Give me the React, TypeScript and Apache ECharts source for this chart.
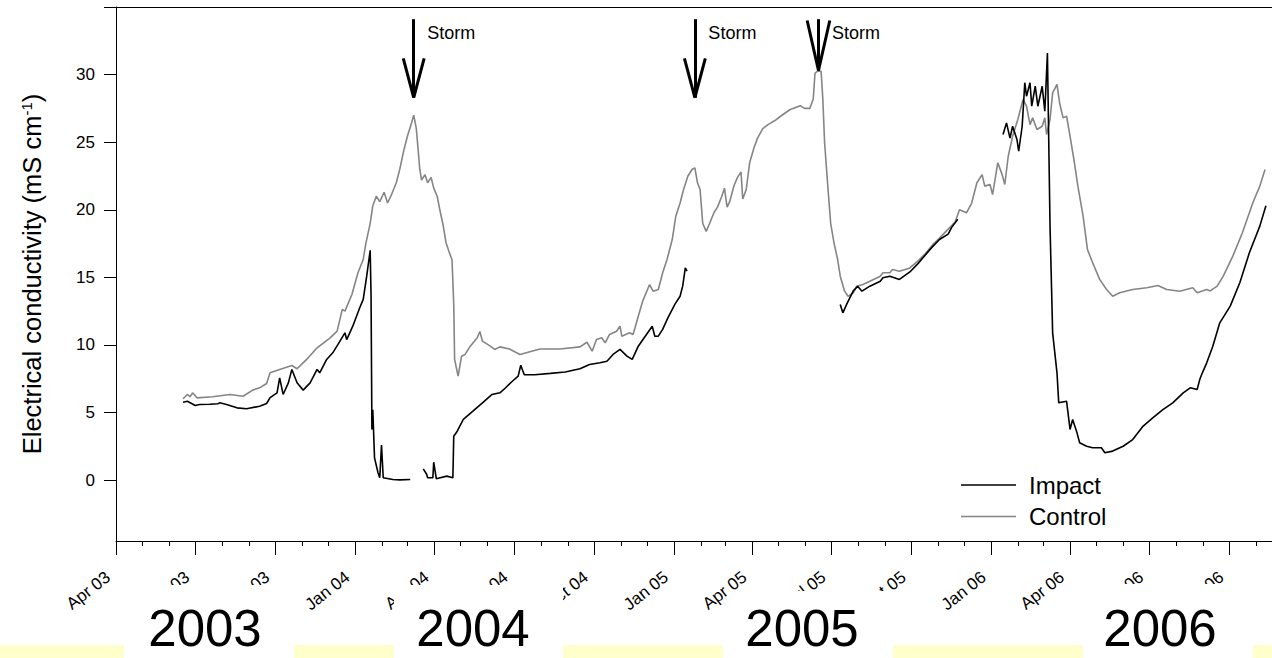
import React, { useEffect, useRef } from 'react';
import * as echarts from 'echarts';

// ---- axis ticks / labels ----
const QUARTER_TICKS = ['2003-04-01','2003-07-01','2003-10-01','2004-01-01','2004-04-01','2004-07-01','2004-10-01','2005-01-01','2005-04-01','2005-07-01','2005-10-01','2006-01-01','2006-04-01','2006-07-01','2006-10-01'];
const QUARTER_LABELS = ['Apr 03','Jul 03','Oct 03','Jan 04','Apr 04','Jul 04','Oct 04','Jan 05','Apr 05','Jul 05','Oct 05','Jan 06','Apr 06','Jul 06','Oct 06'];
const Y_TICKS = [0, 5, 10, 15, 20, 25, 30];
const X_MIN = '2003-04-01';
const X_MAX = '2006-11-19';
const Y_MIN = -4.5;
const Y_MAX = 35;
const YEAR_LABELS = ['2003', '2004', '2005', '2006'];
const SERIES_NAMES = ['Impact', 'Control'];

// ---- storm annotations ----
const STORM_DATES = ['2004-03-08', '2005-01-25', '2005-06-16'];
const STORM_TIPS = [28.3, 28.3, 30.3];

// ---- Impact (black) ----
const IMPACT: [string, number | null][] = [
  ['2003-06-17',5.77],['2003-06-22',5.84],['2003-07-01',5.52],['2003-07-06',5.6],['2003-07-18',5.62],['2003-07-27',5.65],['2003-07-29',5.72],['2003-08-06',5.6],['2003-08-18',5.35],['2003-08-29',5.28],['2003-09-13',5.47],['2003-09-21',5.67],['2003-09-25',6.1],['2003-10-03',6.46],['2003-10-06',7.57],['2003-10-10',6.34],['2003-10-16',7.2],['2003-10-20',8.19],['2003-10-26',7.2],['2003-11-02',6.66],['2003-11-10',7.2],['2003-11-18',8.19],['2003-11-21',7.94],['2003-11-29',8.93],['2003-12-06',9.42],['2003-12-12',10.04],['2003-12-20',10.9],['2003-12-22',10.4],['2003-12-29',11.39],['2004-01-06',12.75],['2004-01-10',13.37],['2004-01-14',15.09],['2004-01-18',17.0],['2004-01-19',13.7],['2004-01-20',3.75],['2004-01-21',5.2],['2004-01-23',1.65],['2004-01-27',0.55],['2004-01-29',0.18],['2004-01-31',2.6],['2004-02-02',0.18],['2004-02-13',0.05],['2004-02-21',0.02],['2004-03-04',0.05],
  ['2004-03-10',null],
  ['2004-03-19',0.84],['2004-03-23',0.42],['2004-03-24',0.18],['2004-03-30',0.18],['2004-03-31',1.33],['2004-04-03',0.1],['2004-04-15',0.3],['2004-04-22',0.18],['2004-04-23',3.25],['2004-04-27',3.62],['2004-05-04',4.49],['2004-05-15',5.1],['2004-05-26',5.72],['2004-06-06',6.34],['2004-06-15',6.46],['2004-06-21',6.8],['2004-06-29',7.3],['2004-07-06',7.7],['2004-07-09',8.5],['2004-07-13',7.8],['2004-07-25',7.8],['2004-08-12',7.9],['2004-08-29',8.0],['2004-09-15',8.24],['2004-09-26',8.56],['2004-10-08',8.68],['2004-10-16',8.8],['2004-10-23',9.3],['2004-10-31',9.67],['2004-11-08',9.17],['2004-11-14',8.93],['2004-11-21',9.91],['2004-11-29',10.65],['2004-12-07',11.39],['2004-12-10',10.65],['2004-12-14',10.65],['2004-12-19',11.15],['2004-12-25',12.01],['2005-01-02',13.0],['2005-01-08',13.6],['2005-01-11',14.35],['2005-01-14',15.71],['2005-01-16',15.46],
  ['2005-04-01',null],
  ['2005-07-11',13.0],['2005-07-14',12.38],['2005-07-19',13.1],['2005-07-26',14.0],['2005-07-31',14.35],['2005-08-05',13.98],['2005-08-14',14.35],['2005-08-26',14.72],['2005-08-29',14.97],['2005-09-06',15.09],['2005-09-17',14.85],['2005-09-29',15.4],['2005-10-08',16.0],['2005-10-16',16.6],['2005-10-24',17.2],['2005-11-02',17.8],['2005-11-12',18.2],['2005-11-16',18.7],['2005-11-23',19.3],
  ['2005-12-20',null],
  ['2006-01-14',25.57],['2006-01-18',26.43],['2006-01-22',25.3],['2006-01-25',26.18],['2006-01-30',25.2],['2006-02-01',24.33],['2006-02-05',26.18],['2006-02-08',29.4],['2006-02-10',28.4],['2006-02-14',29.4],['2006-02-16',27.66],['2006-02-20',29.14],['2006-02-23',27.66],['2006-02-28',29.14],['2006-03-03',27.3],['2006-03-04',28.65],['2006-03-06',31.6],['2006-03-09',18.8],['2006-03-12',10.9],['2006-03-17',7.94],['2006-03-19',5.72],['2006-03-28',5.84],['2006-04-01',3.75],['2006-04-04',4.49],['2006-04-09',3.5],['2006-04-12',2.77],['2006-04-20',2.51],['2006-04-27',2.4],['2006-05-07',2.4],['2006-05-11',2.03],['2006-05-20',2.15],['2006-06-01',2.51],['2006-06-12',3.0],['2006-06-24',4.0],['2006-07-05',4.6],['2006-07-17',5.23],['2006-07-28',5.72],['2006-08-09',6.46],['2006-08-17',6.83],['2006-08-25',6.7],['2006-08-28',7.45],['2006-08-31',7.94],['2006-09-05',8.68],['2006-09-12',9.91],['2006-09-20',11.64],['2006-10-02',12.87],['2006-10-13',14.6],['2006-10-24',16.82],['2006-11-05',18.79],['2006-11-12',20.3]
];

// ---- Control (grey) ----
const CONTROL: [string, number | null][] = [
  ['2003-06-17',6.02],['2003-06-22',6.34],['2003-06-25',6.17],['2003-06-28',6.46],['2003-07-03',6.09],['2003-07-21',6.17],['2003-08-10',6.34],['2003-08-25',6.21],['2003-09-05',6.66],['2003-09-13',6.83],['2003-09-21',7.15],['2003-09-25',7.94],['2003-10-06',8.19],['2003-10-20',8.48],['2003-10-26',8.24],['2003-11-06',8.93],['2003-11-18',9.79],['2003-12-03',10.53],['2003-12-11',11.02],['2003-12-17',12.63],['2003-12-20',12.5],['2003-12-28',13.73],['2004-01-04',15.34],['2004-01-10',16.32],['2004-01-13',17.5],['2004-01-18',19.0],['2004-01-21',20.3],['2004-01-25',21.0],['2004-01-29',20.6],['2004-02-03',21.3],['2004-02-07',20.5],['2004-02-12',21.2],['2004-02-17',22.0],['2004-02-21',23.0],['2004-02-26',24.5],['2004-03-01',25.5],['2004-03-05',26.3],['2004-03-08',27.0],['2004-03-11',26.0],['2004-03-13',24.5],['2004-03-15',23.0],['2004-03-17',22.2],['2004-03-21',22.6],['2004-03-24',22.0],['2004-03-28',22.4],['2004-03-31',21.6],['2004-04-04',21.0],['2004-04-07',20.0],['2004-04-11',18.8],['2004-04-14',17.6],['2004-04-17',17.0],['2004-04-21',16.3],['2004-04-23',13.0],['2004-04-24',8.93],['2004-04-28',7.7],['2004-05-02',9.17],['2004-05-06',9.3],['2004-05-12',9.91],['2004-05-20',10.53],['2004-05-23',11.0],['2004-05-26',10.28],['2004-06-04',9.91],['2004-06-09',9.67],['2004-06-15',9.86],['2004-06-26',9.7],['2004-07-08',9.3],['2004-07-31',9.7],['2004-08-23',9.7],['2004-09-15',9.86],['2004-09-23',10.2],['2004-09-29',9.54],['2004-10-04',10.4],['2004-10-10',10.53],['2004-10-14',10.16],['2004-10-19',10.78],['2004-10-27',11.02],['2004-10-31',11.39],['2004-11-02',10.65],['2004-11-11',10.9],['2004-11-15',10.78],['2004-11-21',12.13],['2004-11-26',13.24],['2004-12-04',14.47],['2004-12-08',13.98],['2004-12-14',14.1],['2004-12-19',15.34],['2004-12-24',16.32],['2004-12-30',17.8],['2005-01-03',19.5],['2005-01-08',20.5],['2005-01-12',21.5],['2005-01-17',22.5],['2005-01-22',23.0],['2005-01-25',23.1],['2005-01-28',22.0],['2005-01-31',21.5],['2005-02-03',19.0],['2005-02-07',18.4],['2005-02-11',19.0],['2005-02-16',19.8],['2005-02-20',20.2],['2005-02-25',21.0],['2005-02-28',21.6],['2005-03-03',20.2],['2005-03-06',20.6],['2005-03-11',21.8],['2005-03-15',22.4],['2005-03-19',22.8],['2005-03-21',20.8],['2005-03-25',21.5],['2005-03-29',23.5],['2005-04-03',24.6],['2005-04-07',25.3],['2005-04-13',26.0],['2005-04-19',26.3],['2005-04-27',26.6],['2005-05-03',26.9],['2005-05-14',27.4],['2005-05-26',27.7],['2005-05-31',27.5],['2005-06-06',27.5],['2005-06-10',28.2],['2005-06-12',30.1],['2005-06-15',30.25],['2005-06-19',30.25],['2005-06-21',28.2],['2005-06-23',25.0],['2005-06-27',21.5],['2005-06-30',19.0],['2005-07-04',17.5],['2005-07-08',16.32],['2005-07-11',15.09],['2005-07-16',13.98],['2005-07-20',13.6],['2005-07-26',13.86],['2005-07-30',14.35],['2005-08-06',14.47],['2005-08-14',14.72],['2005-08-26',15.09],['2005-08-29',15.34],['2005-09-06',15.34],['2005-09-09',15.58],['2005-09-17',15.46],['2005-09-29',15.7],['2005-10-08',16.2],['2005-10-16',16.7],['2005-10-25',17.4],['2005-11-02',17.9],['2005-11-14',18.7],['2005-11-20',19.1],['2005-11-25',20.0],['2005-12-03',19.78],['2005-12-09',20.5],['2005-12-15',22.0],['2005-12-21',22.6],['2005-12-24',21.75],['2005-12-30',21.87],['2006-01-02',21.13],['2006-01-08',23.48],['2006-01-13',22.6],['2006-01-16',21.87],['2006-01-20',23.96],['2006-01-25',25.44],['2006-01-31',26.68],['2006-02-06',28.16],['2006-02-10',27.66],['2006-02-14',26.3],['2006-02-17',26.8],['2006-02-22',25.94],['2006-02-28',26.18],['2006-03-03',26.8],['2006-03-05',25.57],['2006-03-09',26.68],['2006-03-12',28.65],['2006-03-17',29.27],['2006-03-20',27.9],['2006-03-24',26.8],['2006-03-28',26.92],['2006-04-01',25.44],['2006-04-06',23.48],['2006-04-10',21.75],['2006-04-16',19.53],['2006-04-21',17.06],['2006-04-27',16.08],['2006-05-05',14.85],['2006-05-13',14.1],['2006-05-20',13.6],['2006-05-28',13.86],['2006-06-12',14.1],['2006-06-28',14.23],['2006-07-11',14.4],['2006-07-21',14.1],['2006-08-05',13.98],['2006-08-20',14.23],['2006-08-25',13.86],['2006-09-05',14.1],['2006-09-09',14.0],['2006-09-17',14.35],['2006-09-24',15.09],['2006-10-05',16.57],['2006-10-16',18.3],['2006-10-28',20.52],['2006-11-05',21.75],['2006-11-11',22.98]
];

const FONT = '"Liberation Sans", Arial, Helvetica, sans-serif';
const DAY = 86400000;
const ts = (s: string) => Date.UTC(+s.slice(0, 4), +s.slice(5, 7) - 1, +s.slice(8, 10));
const toData = (arr: [string, number | null][]) => arr.map(([d, v]) => [ts(d), v === null ? '-' : v]);

function monthTicks(): number[] {
  const out: number[] = [];
  let y = 2003, m = 3;
  const end = ts(X_MAX);
  while (true) {
    const t = Date.UTC(y, m, 1);
    if (t > end) break;
    out.push(t);
    m++;
    if (m > 11) { m = 0; y++; }
  }
  return out;
}

export default function App() {
  const ref = useRef<HTMLDivElement>(null);
  useEffect(() => {
    if (!ref.current) return;
    const chart = echarts.init(ref.current, null, { renderer: 'svg' });
    const quarterTs = QUARTER_TICKS.map(ts);

    const arrowLines: any[] = [];
    STORM_DATES.forEach((d, i) => {
      const t = ts(d);
      const tip = STORM_TIPS[i];
      const top = 34.1;
      const armStart = i === 2 ? 34.0 : 31.2;
      const armDays = i === 2 ? 13 : 12;
      arrowLines.push([{ coord: [t, top] }, { coord: [t, tip] }]);
      arrowLines.push([{ coord: [t - armDays * DAY, armStart] }, { coord: [t, tip] }]);
      arrowLines.push([{ coord: [t + armDays * DAY, armStart] }, { coord: [t, tip] }]);
    });

    // pale yellow strips between the year boxes
    const yellow = [[0, 124], [294, 394], [563, 723], [893, 1083], [1253, 1272]];
    const yearBoxes = [
      { x0: 124, x1: 294, top: 585, cx: 205, cy: 628 },
      { x0: 394, x1: 563, top: 585, cx: 473, cy: 628 },
      { x0: 733, x1: 893, top: 591, cx: 802, cy: 628 },
      { x0: 1083, x1: 1253, top: 584, cx: 1160, cy: 628 },
    ];
    const graphics: any[] = [];
    yellow.forEach(([a, b]) => {
      graphics.push({ type: 'rect', z: 100, shape: { x: a, y: 645, width: b - a, height: 13 }, style: { fill: '#FFFFCC' } });
    });
    yearBoxes.forEach((b, i) => {
      graphics.push({ type: 'rect', z: 101, shape: { x: b.x0, y: b.top, width: b.x1 - b.x0, height: 658 - b.top }, style: { fill: '#ffffff' } });
      graphics.push({ type: 'text', z: 102, x: b.cx, y: b.cy, style: { text: YEAR_LABELS[i], fontSize: 51, lineHeight: 40, fontFamily: FONT, fill: '#000', textAlign: 'center', textVerticalAlign: 'middle' } });
    });

    const baseX = { type: 'value', min: ts(X_MIN), max: ts(X_MAX), scale: true, splitLine: { show: false } };

    chart.setOption({
      animation: false,
      textStyle: { fontFamily: FONT },
      grid: { left: 116, right: 0, top: 7, bottom: 117, containLabel: false },
      legend: {
        data: SERIES_NAMES,
        orient: 'vertical',
        left: 961,
        top: 473,
        padding: 0,
        icon: 'rect',
        itemWidth: 55,
        itemHeight: 1.6,
        itemGap: 7.5,
        textStyle: { fontSize: 24, color: '#000', fontFamily: FONT, padding: [0, 0, 0, 8] },
      },
      xAxis: [
        {
          ...baseX,
          position: 'bottom',
          axisLine: { show: true, onZero: false, lineStyle: { color: '#000', width: 1 } },
          axisTick: { show: true, customValues: quarterTs, length: 14, lineStyle: { color: '#000', width: 1 } },
          axisLabel: {
            show: true,
            customValues: quarterTs,
            rotate: 38,
            margin: 28,
            fontSize: 17,
            color: '#000',
            padding: [0, 10, 0, 0],
            formatter: (v: number) => {
              const i = quarterTs.indexOf(v);
              return i >= 0 ? QUARTER_LABELS[i] : '';
            },
          },
        },
        {
          ...baseX,
          position: 'bottom',
          axisLine: { show: false, onZero: false },
          axisTick: { show: true, customValues: monthTicks(), length: 5, lineStyle: { color: '#000', width: 1 } },
          axisLabel: { show: false },
        },
        {
          ...baseX,
          position: 'top',
          axisLine: { show: true, onZero: false, lineStyle: { color: '#000', width: 1 } },
          axisTick: { show: false },
          axisLabel: { show: false },
        },
      ],
      yAxis: {
        type: 'value',
        min: Y_MIN,
        max: Y_MAX,
        axisLine: { show: true, onZero: false, lineStyle: { color: '#000', width: 1 } },
        axisTick: { show: true, customValues: [...Y_TICKS, Y_MAX], length: 12, lineStyle: { color: '#000', width: 1 } },
        axisLabel: { customValues: Y_TICKS, margin: 21, fontSize: 17, color: '#000' },
        splitLine: { show: false },
        name: '{t|Electrical conductivity (mS cm}{s|-1}{t|)}',
        nameLocation: 'middle',
        nameRotate: 90,
        nameGap: 71,
        nameTextStyle: {
          rich: {
            t: { fontSize: 25.5, color: '#000', fontFamily: FONT },
            s: { fontSize: 15, color: '#000', fontFamily: FONT, verticalAlign: 'top', padding: [0, 0, 10, 0] },
          },
        },
      },
      series: [
        {
          name: 'Control',
          type: 'line',
          xAxisIndex: 0,
          data: toData(CONTROL),
          showSymbol: false,
          symbol: 'none',
          connectNulls: false,
          lineStyle: { color: '#858585', width: 1.6 },
          itemStyle: { color: '#858585' },
          z: 2,
          markLine: {
            silent: true,
            animation: false,
            symbol: ['none', 'none'],
            label: { show: false },
            lineStyle: { color: '#000', width: 3, type: 'solid' },
            emphasis: { disabled: true },
            data: arrowLines,
          },
          markPoint: {
            silent: true,
            animation: false,
            symbol: 'circle',
            symbolSize: 1,
            itemStyle: { color: 'rgba(0,0,0,0)' },
            label: { show: true, position: 'right', distance: 13, formatter: 'Storm', fontSize: 18, color: '#000', fontFamily: FONT },
            data: STORM_DATES.map((d) => ({ coord: [ts(d), 33.1] })),
          },
        },
        {
          name: 'Impact',
          type: 'line',
          xAxisIndex: 0,
          data: toData(IMPACT),
          showSymbol: false,
          symbol: 'none',
          connectNulls: false,
          lineStyle: { color: '#000', width: 1.6 },
          itemStyle: { color: '#000' },
          z: 3,
        },
      ],
      graphic: { elements: graphics },
    });
    return () => chart.dispose();
  }, []);
  return <div ref={ref} style={{ position: 'fixed', left: 0, top: 0, width: 1272, height: 658, background: '#fff' }} />;
}
